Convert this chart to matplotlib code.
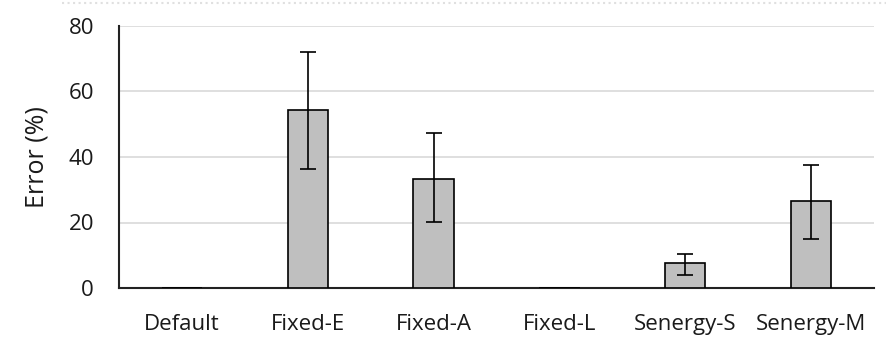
import matplotlib
matplotlib.use("Agg")
import matplotlib.pyplot as plt
from matplotlib.lines import Line2D
import numpy as np

categories = ["Default", "Fixed-E", "Fixed-A", "Fixed-L", "Senergy-S", "Senergy-M"]
error_mean = [0, 54.2, 33.4, 0, 7.5, 26.5]
error_low = [0, 18.0, 13.3, 0, 3.4, 11.4]
error_high = [0, 17.8, 13.8, 0, 2.9, 11.0]
yticks = [0, 20, 40, 60, 80]

plt.rcParams['font.family'] = ['Open Sans', 'DejaVu Sans']

fig = plt.figure(figsize=(8.86, 3.41), dpi=100)
ax = fig.add_axes([119 / 886, 1 - 288 / 341, 755 / 886, 262 / 341])

x = np.arange(len(categories))
# only the non-zero bars carry error bars
mask = np.array(error_mean) > 0
ax.bar(x, error_mean, width=0.32, color='#bfbfbf', edgecolor='black', linewidth=1.2, zorder=3)
ax.errorbar(x[mask], np.array(error_mean)[mask],
            yerr=[np.array(error_low)[mask], np.array(error_high)[mask]],
            fmt='none', ecolor='black', elinewidth=1.2, capsize=6, capthick=1.2, zorder=4)

ax.set_xlim(-0.5, len(categories) - 0.5)
ax.set_ylim(0, 80)
ax.set_yticks(yticks)
ax.set_xticks(x)
ax.set_xticklabels(categories)
ax.tick_params(axis='both', length=0, labelsize=16, colors='#1a1a1a')
ax.tick_params(axis='x', pad=19)
ax.tick_params(axis='y', pad=18)
ax.set_ylabel("Error (%)", fontsize=18, labelpad=14, color='#1a1a1a')

ax.grid(axis='y', color='#d9d9d9', linewidth=1.2, zorder=0)
ax.set_axisbelow(True)
for side in ['top', 'right']:
    ax.spines[side].set_visible(False)
ax.spines['left'].set_linewidth(1.5)
ax.spines['bottom'].set_linewidth(1.5)
ax.spines['left'].set_color('#222222')
ax.spines['bottom'].set_color('#222222')

# faint dotted border at top of the image
fig.add_artist(Line2D([0.07, 1.0], [1 - 3 / 341, 1 - 3 / 341], transform=fig.transFigure,
                      color='#e0e0e0', linewidth=1.5, linestyle=':'))

fig.savefig("out.png", dpi=100)
